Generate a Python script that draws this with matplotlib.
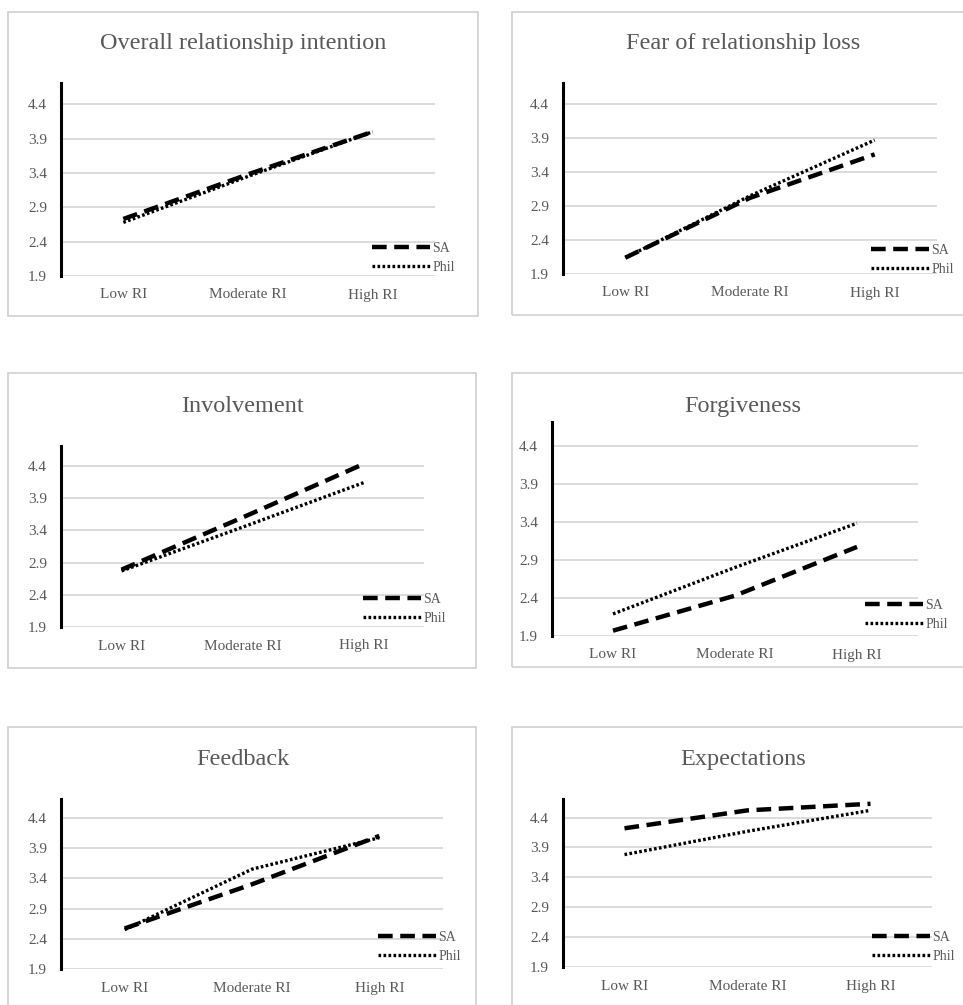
import matplotlib
matplotlib.use("Agg")
import matplotlib.pyplot as plt
from matplotlib.patches import Rectangle

W, H = 963, 1005

categories = ["Low RI", "Moderate RI", "High RI"]
yticks = [1.9, 2.4, 2.9, 3.4, 3.9, 4.4]
titles = ["Overall relationship intention", "Fear of relationship loss",
          "Involvement", "Forgiveness", "Feedback", "Expectations"]
sa_vals = [
    [2.73, 3.38, 4.00],
    [2.14, 3.02, 3.66],
    [2.79, 3.60, 4.43],
    [1.97, 2.43, 3.07],
    [2.57, 3.30, 4.10],
    [4.22, 4.52, 4.63],
]
phil_vals = [
    [2.68, 3.35, 4.00],
    [2.14, 3.05, 3.87],
    [2.77, 3.45, 4.14],
    [2.19, 2.80, 3.38],
    [2.55, 3.55, 4.07],
    [3.78, 4.17, 4.52],
]

# layout in pixels: axes (left, top, right, bottom), frame (x0, y0, x1, y1), title (x, y), legend (x, yc)
axes_px = [(61, 83, 435, 276), (563, 83, 937, 274), (61, 446, 424, 627),
           (552, 422, 918, 636), (61, 799, 443, 969), (563, 799, 932, 967)]
frames_px = [(8, 12, 478, 316), (512, 12, 975, 315), (8, 373, 476, 668),
             (512, 373, 975, 667), (8, 727, 476, 1015), (512, 727, 975, 1015)]
title_px = [(243, 43), (743, 43), (243, 406), (743, 406), (243, 759), (743, 759)]
legend_px = [(372, 258), (871, 260), (363, 609), (865, 615), (378, 947), (872, 947)]

grey = "#595959"
serif = "Liberation Serif"

fig = plt.figure(figsize=(W / 100, H / 100), dpi=100)
fig.patch.set_facecolor("white")

for i in range(6):
    x0, y0, x1, y1 = frames_px[i]
    fig.patches.append(Rectangle((x0 / W, 1 - y1 / H), (x1 - x0) / W, (y1 - y0) / H,
                                 transform=fig.transFigure, fill=False,
                                 edgecolor="#d0d0d0", lw=1.2))

    l, t, r, b = axes_px[i]
    # axes top is the spine top (~4.7), bottom at 1.9
    ax = fig.add_axes([l / W, 1 - b / H, (r - l) / W, (b - t) / H])
    ax.plot(range(3), sa_vals[i], color="black", lw=3.2, dashes=(3.3, 1.7),
            solid_capstyle="butt", label="SA")
    ax.plot(range(3), phil_vals[i], color="black", lw=2.4, dashes=(0.8, 0.7),
            label="Phil")
    ax.set_xlim(-0.5, 2.5)
    ax.set_ylim(1.9, 4.71)
    ax.set_yticks(yticks)
    ax.set_yticklabels([f"{v:.1f}" for v in yticks])
    ax.set_xticks(range(3))
    ax.set_xticklabels(categories)
    ax.grid(axis="y", color="#d9d9d9", lw=1.3, zorder=0)
    ax.set_axisbelow(True)
    for s in ["top", "right", "bottom"]:
        ax.spines[s].set_visible(False)
    ax.spines["left"].set_linewidth(2.2)
    ax.spines["left"].set_color("black")
    ax.tick_params(length=0, labelcolor=grey, labelsize=11)
    ax.tick_params(axis="y", pad=10)
    ax.tick_params(axis="x", pad=9)
    for lab in ax.get_xticklabels() + ax.get_yticklabels():
        lab.set_fontfamily(serif)

    tx, ty = title_px[i]
    fig.text(tx / W, 1 - ty / H, titles[i], ha="center", va="center",
             fontsize=17.5, color=grey, family=serif)

    lx, ly = legend_px[i]
    leg = ax.legend(loc="center left", bbox_to_anchor=(lx / W, 1 - ly / H),
                    bbox_transform=fig.transFigure, frameon=False,
                    prop={"family": serif, "size": 10}, handlelength=4.2,
                    handletextpad=0.15, labelspacing=0.4, borderpad=0,
                    borderaxespad=0)
    for txt in leg.get_texts():
        txt.set_color(grey)

fig.savefig("out.png", dpi=100, facecolor="white")
